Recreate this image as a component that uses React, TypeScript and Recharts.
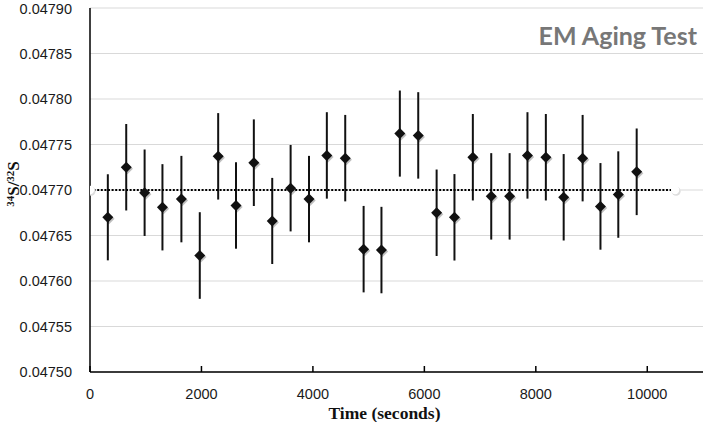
import React from "react";
import {
  ScatterChart,
  Scatter,
  XAxis,
  YAxis,
  CartesianGrid,
  ErrorBar,
  Label,
} from "recharts";

// time in seconds for each measurement
const times = [
  320, 650, 980, 1300, 1640, 1970, 2300, 2620, 2940, 3270, 3600, 3930, 4250,
  4580, 4910, 5230, 5560, 5890, 6220, 6540, 6870, 7200, 7530, 7850, 8180, 8500,
  8840, 9160, 9480, 9810,
];

// 34S/32S ratios
const ratios = [
  0.04767, 0.047725, 0.047697, 0.047681, 0.04769, 0.047628, 0.047737, 0.047683,
  0.04773, 0.047666, 0.047702, 0.04769, 0.047738, 0.047735, 0.047635, 0.047634,
  0.047762, 0.04776, 0.047675, 0.04767, 0.047736, 0.047693, 0.047693, 0.047738,
  0.047736, 0.047692, 0.047735, 0.047682, 0.047695, 0.04772,
];

// error bar half-widths
const errors = [
  0.0000473, 0.0000475, 0.0000475, 0.0000474, 0.0000475, 0.0000476, 0.0000475,
  0.0000475, 0.0000476, 0.0000473, 0.0000475, 0.0000475, 0.0000475, 0.0000475,
  0.0000475, 0.0000475, 0.0000473, 0.0000475, 0.0000475, 0.0000475, 0.0000475,
  0.0000475, 0.0000475, 0.0000475, 0.0000475, 0.0000475, 0.0000475, 0.0000476,
  0.0000475, 0.0000476,
];

// mean line
const meanTimes = [0, 10500];
const meanValue = 0.0477;

const xTicks = [0, 2000, 4000, 6000, 8000, 10000];
const yTicks = [
  0.0475, 0.04755, 0.0476, 0.04765, 0.0477, 0.04775, 0.0478, 0.04785, 0.0479,
];

const points = times.map((t, i) => ({ x: t, y: ratios[i], err: errors[i] }));
const meanLine = meanTimes.map((t) => ({ x: t, y: meanValue }));

const sans = "'Liberation Sans', Arial, sans-serif";
const serif = "'Liberation Serif', 'Times New Roman', serif";

const Diamond = (props: any) => {
  const { cx, cy } = props;
  const r = 5.5;
  const pts = (dx: number, dy: number) =>
    `${cx + dx},${cy + dy - r} ${cx + dx + r},${cy + dy} ${cx + dx},${cy + dy + r} ${cx + dx - r},${cy + dy}`;
  return (
    <g>
      <polygon points={pts(1.2, 1.5)} fill="rgba(0,0,0,0.25)" />
      <polygon points={pts(0, 0)} fill="#111" />
    </g>
  );
};

const EndDot = (props: any) => {
  const { cx, cy } = props;
  return (
    <g>
      <circle cx={cx + 1} cy={cy + 1.2} r={4.5} fill="#ddd" />
      <circle cx={cx} cy={cy} r={4.2} fill="#fff" />
    </g>
  );
};

const YTick = (props: any) => {
  const { y, payload } = props;
  return (
    <text x={72} y={y} dy={5} textAnchor="end" fontFamily={sans} fontSize={14.5} fill="#1a1a1a">
      {payload.value.toFixed(5)}
    </text>
  );
};

const XTick = (props: any) => {
  const { x, payload } = props;
  return (
    <text x={x} y={399} textAnchor="middle" fontFamily={sans} fontSize={14.5} fill="#1a1a1a">
      {payload.value}
    </text>
  );
};

const YLabel = (props: any) => {
  const { viewBox } = props;
  const cx = 19;
  const cy = viewBox.y + viewBox.height / 2 - 6;
  return (
    <text
      x={cx}
      y={cy}
      transform={`rotate(-90 ${cx} ${cy})`}
      textAnchor="middle"
      fontFamily={serif}
      fontWeight="bold"
      fontSize={17}
      fill="#111"
    >
      <tspan fontSize={11} dy={-5}>34</tspan>
      <tspan dy={5}>S/</tspan>
      <tspan fontSize={11} dy={-5}>32</tspan>
      <tspan dy={5}>S</tspan>
    </text>
  );
};

export default function App() {
  return (
    <div style={{ position: "absolute", left: 0, top: 0, width: 706, height: 422 }}>
      <ScatterChart
        width={706}
        height={422}
        margin={{ top: 8, right: 3, bottom: 0, left: 0 }}
      >
        <CartesianGrid
          vertical={false}
          stroke="#d9d9d9"
          strokeWidth={1.2}
          yAxisId="left"
        />
        <XAxis
          type="number"
          dataKey="x"
          xAxisId="bottom"
          domain={[0, 11000]}
          ticks={xTicks}
          allowDataOverflow
          height={50}
          axisLine={{ stroke: "#000", strokeWidth: 1.5 }}
          tickLine={{ stroke: "#000", strokeWidth: 1.5 }}
          tickSize={-6}
          tick={<XTick />}
        >
          <Label
            value="Time (seconds)"
            position="insideBottom"
            offset={3}
            dx={-12}
            style={{
              fontFamily: serif,
              fontWeight: "bold",
              fontSize: 17.5,
              fill: "#111",
            }}
          />
        </XAxis>
        <XAxis
          type="number"
          xAxisId="top"
          orientation="top"
          domain={[0, 11000]}
          height={0}
          tick={false}
          tickLine={false}
          axisLine={{ stroke: "#000", strokeWidth: 1.5 }}
        />
        <YAxis
          type="number"
          dataKey="y"
          yAxisId="left"
          domain={[0.0475, 0.0479]}
          ticks={yTicks}
          allowDataOverflow
          width={90}
          tickLine={false}
          axisLine={{ stroke: "#000", strokeWidth: 1.5 }}
          tick={<YTick />}
        >
          <Label content={<YLabel />} />
        </YAxis>
        <YAxis
          type="number"
          yAxisId="right"
          orientation="right"
          domain={[0.0475, 0.0479]}
          width={0}
          tick={false}
          tickLine={false}
          axisLine={{ stroke: "#000", strokeWidth: 1.5 }}
        />
        <Scatter
          data={meanLine}
          xAxisId="bottom"
          yAxisId="left"
          line={{ stroke: "#000", strokeWidth: 2, strokeDasharray: "2 1.6" }}
          lineType="joint"
          shape={<EndDot />}
          isAnimationActive={false}
        />
        <Scatter
          data={points}
          xAxisId="bottom"
          yAxisId="left"
          shape={<Diamond />}
          isAnimationActive={false}
        >
          <ErrorBar
            dataKey="err"
            direction="y"
            width={0}
            stroke="#111"
            strokeWidth={2}
            isAnimationActive={false}
          />
        </Scatter>
      </ScatterChart>
      <div
        style={{
          position: "absolute",
          right: 9,
          top: 20,
          fontFamily: "Lato, 'Open Sans', sans-serif",
          fontWeight: "bold",
          fontSize: 25,
          color: "#777",
        }}
      >
        EM Aging Test
      </div>
    </div>
  );
}
